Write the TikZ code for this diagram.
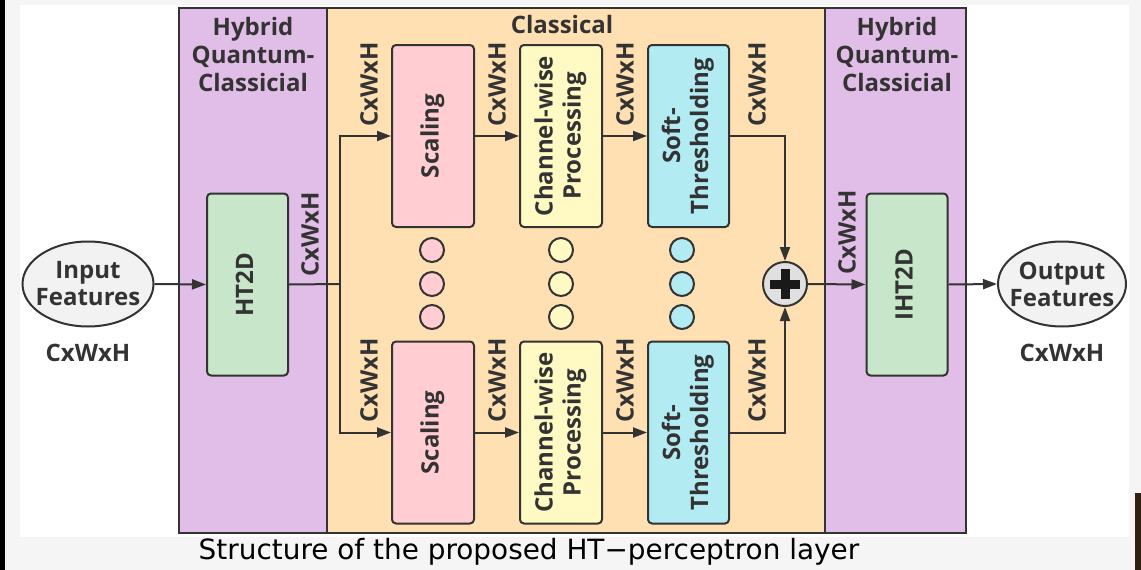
\documentclass[tikz,border=0pt]{standalone}
\usepackage{fontspec}
\setmainfont{Open Sans}
\newfontfamily\capfont{DejaVu Sans}
\usepackage{tikz}
\usetikzlibrary{arrows.meta, positioning, shapes.geometric}
\usepackage{xcolor}
\definecolor{ink}{HTML}{333333}
\definecolor{hybridbg}{HTML}{E1BEE7}
\definecolor{classbg}{HTML}{FFE0B2}
\definecolor{htfill}{HTML}{C8E6C9}
\definecolor{scalefill}{HTML}{FFCDD2}
\definecolor{chanfill}{HTML}{FFF9C4}
\definecolor{softfill}{HTML}{B2EBF2}
\definecolor{featfill}{HTML}{F2F2F2}
\definecolor{plusfill}{HTML}{E0E0E0}
\tikzset{
    every node/.style={text=ink, font=\fontsize{24}{28}\selectfont\bfseries},
    panel/.style={draw=ink, line width=1.5pt},
    block/.style={draw=ink, line width=2pt, rounded corners=4pt, minimum width=82pt, minimum height=182pt, inner sep=0pt},
    feat/.style={ellipse, draw=ink, line width=2pt, fill=featfill, minimum width=131pt, minimum height=85pt, inner xsep=-8pt, inner ysep=0pt, align=center, font=\fontsize{24}{27}\selectfont\bfseries},
    dim/.style={rotate=90, anchor=west, inner sep=0pt},
    dot/.style={circle, draw=ink, line width=2pt, minimum size=24pt, inner sep=0pt},
    flow/.style={draw=ink, line width=2pt, -{Triangle[length=14pt, width=10pt]}},
    wire/.style={draw=ink, line width=2pt}
}
\newcommand{\vtext}[1]{\rotatebox{90}{\begin{tabular}{@{}c@{}}#1\end{tabular}}}

\begin{document}
\begin{tikzpicture}[x=1pt, y=-1pt]
    \useasboundingbox (0,0) rectangle (1141,570);
    % screenshot background
    \fill[gray!8] (0,0) rectangle (1141,570);
    \fill[black] (0,0) rectangle (5,570);
    \fill[white] (20,5) rectangle (1129,537);
    \fill[black!75!brown] (1135,493) rectangle (1141,570);

    % panels
    \draw[panel, fill=hybridbg] (179,8) rectangle (327,533);
    \draw[panel, fill=classbg] (327,8) rectangle (825,533);
    \draw[panel, fill=hybridbg] (825,8) rectangle (966,533);
    \node[align=center] (hqcL) at (253,54) {Hybrid\\Quantum-\\Classicial};
    \node[align=center] (hqcR) at (897,54) {Hybrid\\Quantum-\\Classicial};
    \node (classical) at (562,24) {Classical};

    % input / output
    \node[feat] (inp) at (88,284) {Input\\Features};
    \node (inpdim) at (88,353) {CxWxH};
    \node[feat, minimum width=128pt] (out) at (1062,284) {Output\\Features};
    \node (outdim) at (1062,353) {CxWxH};

    % transforms
    \node[block, fill=htfill, minimum width=81pt] (ht) at (247.5,284.5) {\vtext{HT2D}};
    \node[block, fill=htfill, minimum width=81pt] (iht) at (907,284.5) {\vtext{IHT2D}};

    % upper branch
    \node[block, fill=scalefill] (scaleA) at (433,136) {\vtext{Scaling}};
    \node[block, fill=chanfill] (chanA) at (561,136) {\vtext{Channel-wise\\Processing}};
    \node[block, fill=softfill, minimum width=81pt] (softA) at (688.5,136) {\vtext{Soft-\\Thresholding}};
    % lower branch
    \node[block, fill=scalefill] (scaleB) at (433,432.5) {\vtext{Scaling}};
    \node[block, fill=chanfill] (chanB) at (561,432.5) {\vtext{Channel-wise\\Processing}};
    \node[block, fill=softfill, minimum width=81pt] (softB) at (688.5,432.5) {\vtext{Soft-\\Thresholding}};

    % ellipsis dots
    \foreach \y/\k in {250/1, 284/2, 317/3} {
        \node[dot, fill=scalefill] (dotS\k) at (432,\y) {};
        \node[dot, fill=chanfill] (dotC\k) at (561,\y) {};
        \node[dot, fill=softfill] (dotT\k) at (682,\y) {};
    }

    % adder
    \node[circle, draw=ink, line width=2pt, fill=plusfill, minimum size=44pt, inner sep=0pt,
        path picture={
            \fill[black!90] ([xshift=-15pt, yshift=-4.5pt]path picture bounding box.center) rectangle ++(30pt,9pt);
            \fill[black!90] ([xshift=-4.5pt, yshift=-15pt]path picture bounding box.center) rectangle ++(9pt,30pt);
        }] (plus) at (785,284) {};

    \coordinate (split) at (340,284);

    % connectors
    \draw[flow] (inp.east) -- (ht.west);
    \draw[wire] (ht.east) -- (split);
    \draw[flow] (split) |- (scaleA.west);
    \draw[flow] (split) |- (scaleB.west);
    \draw[flow] (scaleA.east) -- (chanA.west);
    \draw[flow] (chanA.east) -- (softA.west);
    \draw[flow] (scaleB.east) -- (chanB.west);
    \draw[flow] (chanB.east) -- (softB.west);
    \draw[flow] (softA.east) -| (plus.north);
    \draw[flow] (softB.east) -| (plus.south);
    \draw[flow] (plus.east) -- (iht.west);
    \draw[flow] (iht.east) -- (out.west);

    % tensor sizes
    \node[dim] (dimHT) at (310,277) {CxWxH};
    \node[dim] (dimIHT) at (847,275) {CxWxH};
    \foreach \x/\k in {369/1, 497/2, 625/3, 757/4} {
        \node[dim] (dimA\k) at (\x,127) {CxWxH};
        \node[dim] (dimB\k) at (\x,423) {CxWxH};
    }

    % caption
    \node[text=black, font=\capfont\fontsize{27.9}{32}\selectfont] (caption) at (529,552) {Structure of the proposed HT−perceptron layer};
\end{tikzpicture}
\end{document}
